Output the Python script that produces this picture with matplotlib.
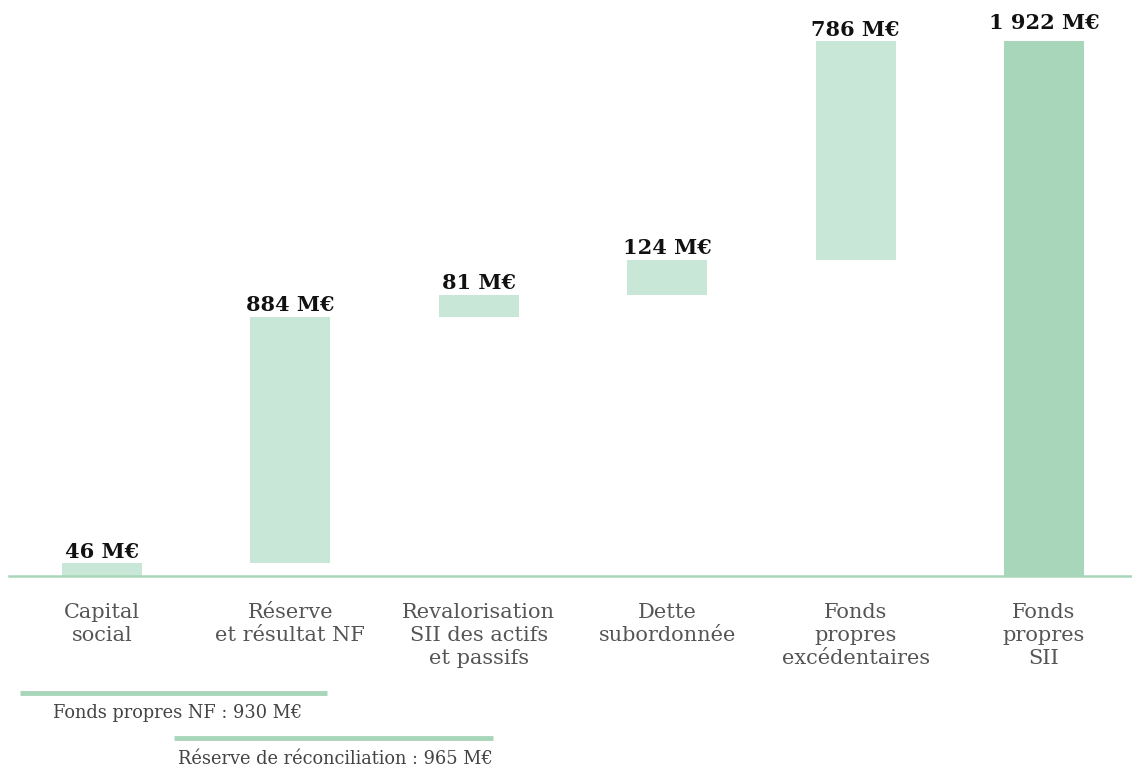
import matplotlib
matplotlib.use("Agg")
import matplotlib.pyplot as plt
from matplotlib.lines import Line2D
import numpy as np

categories = ["Capital\nsocial", "Réserve\net résultat NF", "Revalorisation\nSII des actifs\net passifs",
              "Dette\nsubordonnée", "Fonds\npropres\nexcédentaires", "Fonds\npropres\nSII"]
steps = [46, 884, 81, 124, 786]
total = 1922
value_labels = ["46 M€", "884 M€", "81 M€", "124 M€", "786 M€", "1 922 M€"]
brackets = ["Fonds propres NF : 930 M€", "Réserve de réconciliation : 965 M€"]

W, H = 1132, 767
SERIF = ['DejaVu Serif', 'Liberation Serif', 'DejaVu Sans']
plt.rcParams['font.family'] = SERIF
fig = plt.figure(figsize=(W / 100, H / 100), dpi=100)

light = "#c9e7d6"
dark = "#a8d6ba"
spacing = 188.4
x0px = 102
ax_left_px, ax_right_px = 9, 1132
base_px, top_px = 576, 19.2
ax = fig.add_axes([ax_left_px / W, (H - base_px) / H, (ax_right_px - ax_left_px) / W, (base_px - top_px) / H])
ax.set_xlim((ax_left_px - x0px) / spacing, (ax_right_px - x0px) / spacing)
ax.set_ylim(0, 2000)
ax.axis("off")

bottoms = np.concatenate([[0], np.cumsum(steps)[:-1]])
xs = np.arange(len(categories))
ax.bar(xs[:-1], steps, bottom=bottoms, width=0.425, color=light)
ax.bar(xs[-1], total, width=0.425, color=dark)
fig.add_artist(Line2D([ax_left_px / W, 1], [(H - base_px) / H] * 2, color=dark, lw=1.8))

tops = list(bottoms + np.array(steps)) + [total]
offsets = [6] * len(steps) + [30]
for x, t, off, lab in zip(xs, tops, offsets, value_labels):
    ax.text(x, t + off, lab, ha="center", va="bottom", fontsize=15, fontweight="bold",
            color="#111111", family=SERIF)

for x, c in zip(xs, categories):
    ax.text(x, -97, c, ha="center", va="top", fontsize=15, color="#555555",
            linespacing=1.27, family=SERIF)

def pxline(x1, x2, y):
    fig.add_artist(Line2D([x1 / W, x2 / W], [(H - y) / H, (H - y) / H], color=dark, lw=3.5,
                          solid_capstyle="butt"))

pxline(20, 327, 693)
fig.text(178 / W, (H - 713) / H, brackets[0], ha="center", va="center", fontsize=12.8,
         color="#444444", family=SERIF)
pxline(174, 493, 738)
fig.text(335 / W, (H - 759) / H, brackets[1], ha="center", va="center", fontsize=12.8,
         color="#444444", family=SERIF)

fig.savefig("out.png", dpi=100)
